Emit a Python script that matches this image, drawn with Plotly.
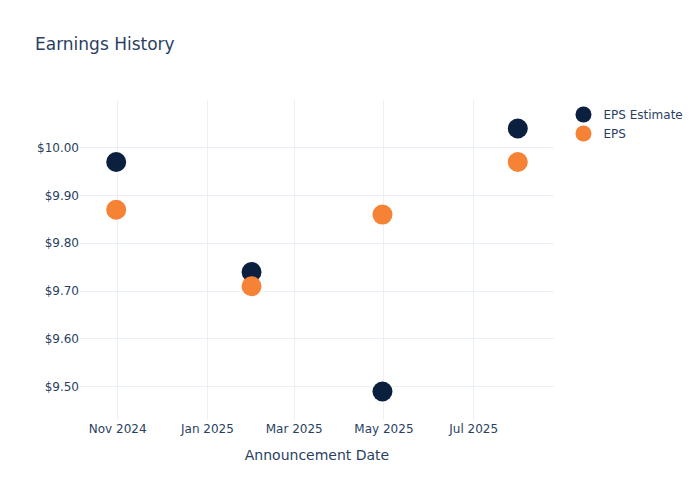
import plotly.graph_objects as go

dates = ["2024-10-31", "2025-01-31", "2025-04-30", "2025-07-31"]
eps_estimate = [9.97, 9.74, 9.49, 10.04]
eps_actual = [9.87, 9.71, 9.86, 9.97]

fig = go.Figure()
fig.add_trace(go.Scatter(x=dates, y=eps_estimate, mode="markers", name="EPS Estimate",
                         marker=dict(color="#0b1f3f", size=20)))
fig.add_trace(go.Scatter(x=dates, y=eps_actual, mode="markers", name="EPS",
                         marker=dict(color="#f58235", size=20)))
fig.update_layout(
    template="plotly_white",
    width=700, height=500,
    font=dict(family="DejaVu Sans, Verdana, sans-serif"),
    title=dict(text="Earnings History"),
    xaxis=dict(title=dict(text="Announcement Date")),
    yaxis=dict(tickformat="$.2f"),
)
fig.write_html("out.html", config={"displayModeBar": False},
               post_script="document.body.style.margin='0';")
